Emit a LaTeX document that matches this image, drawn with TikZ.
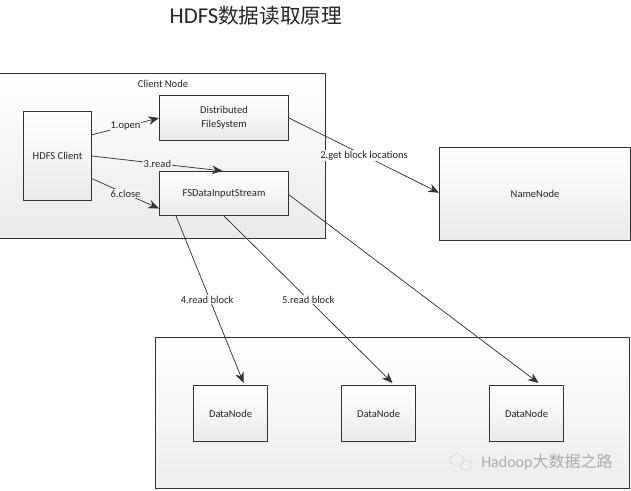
\documentclass[tikz,border=0pt]{standalone}
\usepackage{fontspec}
\setmainfont{Carlito}
\newfontfamily\cjk{Noto Sans CJK SC}
\usetikzlibrary{arrows.meta}
\definecolor{edgeC}{HTML}{333333}
\tikzset{
  x=0.75pt,y=-0.75pt,
  boxst/.style={draw=edgeC,line width=0.8pt,top color=white,bottom color=#1,anchor=north west,inner sep=0pt,align=center,font=\fontsize{7.9}{10.5}\selectfont,text=black!85},
  boxst/.default={black!8},
  conn/.style={draw=edgeC,line width=0.55pt,-{Stealth[length=8pt,width=6.5pt]}},
  lab/.style={font=\fontsize{7.9}{10}\selectfont,text=black!85,inner sep=0.5pt},
}
\begin{document}
\begin{tikzpicture}
\useasboundingbox (0,0) rectangle (631,491);
\fill[white] (0,0) rectangle (631,491);
\node[font=\fontsize{17}{19}\selectfont,text=black!85,inner sep=0pt] (title) at (256,16) {HDFS\cjk{\fontsize{15.5}{19}\selectfont 数据读取原理}};
\node[boxst,minimum width=326*0.75pt,minimum height=165*0.75pt] (client) at (-1,73) {};
\node[lab] (clientlab) at (163,83.5) {Client Node};
\node[boxst,minimum width=68*0.75pt,minimum height=89*0.75pt] (hc) at (23,111) {HDFS Client};
\node[boxst,minimum width=129*0.75pt,minimum height=45*0.75pt] (dfs) at (159,95) {Distributed\\FileSystem};
\node[boxst,minimum width=129*0.75pt,minimum height=44*0.75pt] (fs) at (159,171) {FSDataInputStream};
\node[boxst,minimum width=191*0.75pt,minimum height=93*0.75pt] (nn) at (439,147) {NameNode};
\node[boxst=black!7,minimum width=474*0.75pt,minimum height=151*0.75pt] (dc) at (155,337) {};
\node[boxst,minimum width=74*0.75pt,minimum height=56*0.75pt] (d1) at (193,385) {DataNode};
\node[boxst,minimum width=74*0.75pt,minimum height=56*0.75pt] (d2) at (341,385) {DataNode};
\node[boxst,minimum width=74*0.75pt,minimum height=56*0.75pt] (d3) at (489,385) {DataNode};
\draw[conn] ([yshift=16pt]hc.east) -- node[lab,midway,fill=white!97!black]{1.open} ([yshift=0pt]dfs.west);
\draw[conn] (hc.east) -- node[lab,midway,fill=white!97!black]{3.read} ([xshift=-1pt]fs.north);
\draw[conn] ([yshift=-17pt]hc.east) -- node[lab,midway,fill=white!97!black]{6.close} ([yshift=-11.25pt]fs.west);
\draw[conn] (dfs.east) -- node[lab,pos=0.5,fill=white]{2.get block locations} ([yshift=1pt]nn.west);
\draw[conn] ([xshift=-36pt]fs.south) -- node[lab,pos=0.5,xshift=-2pt,fill=white]{4.read block} ([xshift=9.75pt,yshift=1.5pt]d1.north);
\draw[conn] ([xshift=0pt]fs.south) -- node[lab,pos=0.5,fill=white]{5.read block} ([xshift=10.5pt,yshift=1.5pt]d2.north);
\draw[conn] ([yshift=-1pt]fs.east) -- ([xshift=9pt,yshift=1.5pt]d3.north);
\node[font=\fontsize{12}{14}\selectfont,text=black!33,inner sep=0pt,anchor=west] (wm) at (481,462) {Hadoop\cjk{大数据之路}};
\draw[black!30,line width=0.5pt,densely dotted] (457,460) ellipse (7 and 6);
\draw[black!30,line width=0.5pt,densely dotted] (466,465) ellipse (6 and 5);
\end{tikzpicture}
\end{document}
